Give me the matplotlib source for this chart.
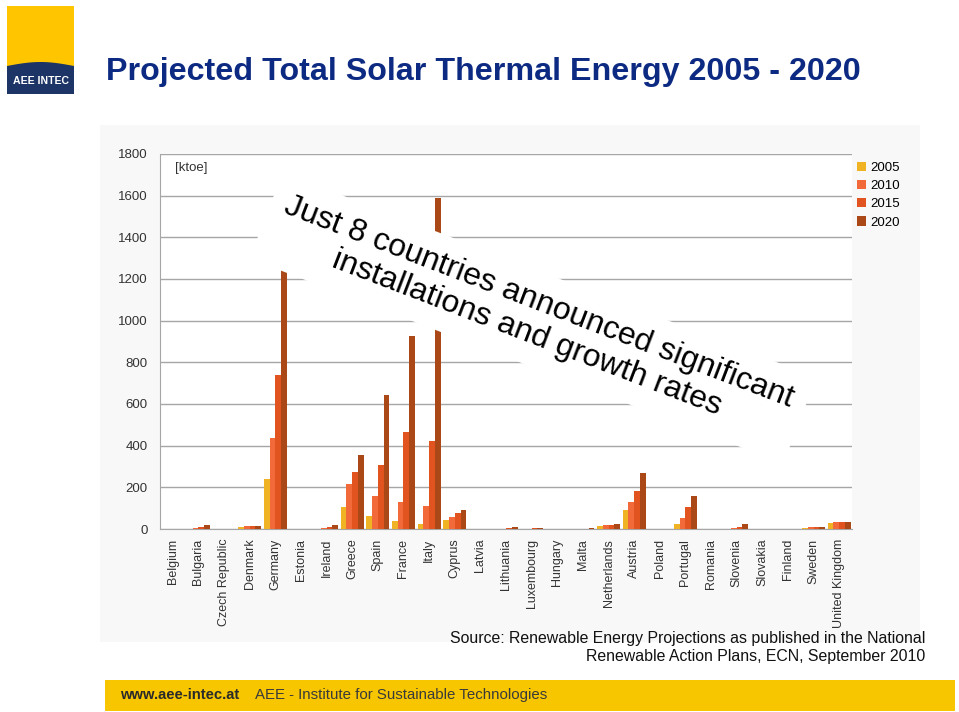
import numpy as np
import matplotlib
matplotlib.use('Agg')
import matplotlib.pyplot as plt
from matplotlib.patches import Rectangle, Polygon

plt.rcParams['font.family'] = ['Liberation Sans', 'DejaVu Sans']

countries = ['Belgium', 'Bulgaria', 'Czech Republic', 'Denmark', 'Germany', 'Estonia',
             'Ireland', 'Greece', 'Spain', 'France', 'Italy', 'Cyprus', 'Latvia',
             'Lithuania', 'Luxembourg', 'Hungary', 'Malta', 'Netherlands', 'Austria',
             'Poland', 'Portugal', 'Romania', 'Slovenia', 'Slovakia', 'Finland',
             'Sweden', 'United Kingdom']
years = ['2005', '2010', '2015', '2020']
v2005 = [0, 0, 0, 11, 240, 0, 0, 104, 61, 38, 24, 43, 0, 0, 0, 0, 2, 14, 93, 0, 24, 0, 1, 0, 0, 7, 29]
v2010 = [0, 5, 0, 13, 439, 0, 5, 216, 158, 131, 112, 59, 0, 1, 1, 0, 2, 21, 128, 0, 53, 0, 5, 0, 0, 8, 35]
v2015 = [0, 10, 0, 14, 741, 0, 10, 272, 307, 465, 424, 77, 0, 5, 3, 0, 2, 18, 182, 0, 107, 0, 10, 0, 0, 8, 35]
v2020 = [0, 20, 0, 16, 1243, 0, 19, 355, 644, 927, 1588, 91, 0, 8, 7, 0, 3, 24, 270, 0, 160, 0, 22, 0, 0, 8, 35]
yticks = [0, 200, 400, 600, 800, 1000, 1200, 1400, 1600, 1800]
colors = ['#F0B323', '#F26A3A', '#E2541F', '#AA4818']

W, H = 959, 712
fig = plt.figure(figsize=(W / 100, H / 100), dpi=100)


def px(x, y):
    # pixel coords (top-left origin) -> figure fraction
    return x / W, 1 - y / H


# faint grey panel behind the chart
fig.add_artist(Rectangle(px(100, 642), 820 / W, 517 / H, transform=fig.transFigure,
                         fc='#f8f8f8', ec='none', zorder=0))

# logo
fig.add_artist(Rectangle(px(7, 94), 67 / W, 88 / H, transform=fig.transFigure,
                         fc='#FFC600', ec='none'))
xs = np.linspace(7, 74, 30)
top = 66 - 4 * np.sin(np.pi * (xs - 7) / 67)
pts = [px(x, y) for x, y in zip(xs, top)] + [px(74, 94), px(7, 94)]
fig.add_artist(Polygon(pts, closed=True, transform=fig.transFigure, fc='#1C3466', ec='none'))
fig.text(*px(41, 81), 'AEE INTEC', color='white', fontsize=7.6, fontweight='bold',
         ha='center', va='center')

fig.text(*px(106, 72), 'Projected Total Solar Thermal Energy 2005 - 2020', color='#0C2A82',
         fontsize=23.2, fontweight='bold', ha='left', va='center')

ax = fig.add_axes([160 / W, 1 - 529 / H, 692 / W, 375 / H])
ax.set_facecolor('white')
x = np.arange(len(countries))
bw = 0.225
for i, (vals, lab) in enumerate(zip([v2005, v2010, v2015, v2020], years)):
    ax.bar(x + (i - 1.5) * bw, vals, width=bw, color=colors[i], label=lab, zorder=3)

ax.set_xlim(-0.5, len(countries) - 0.5)
ax.set_ylim(0, 1800)
ax.set_yticks(yticks)
ax.set_xticks(x)
ax.set_xticklabels(countries, rotation=90, fontsize=9, color='#333333')
ax.tick_params(axis='y', length=0, pad=9, labelsize=9.5, labelcolor='#333333')
ax.tick_params(axis='x', length=0, pad=7)
ax.grid(axis='y', color='#a6a6a6', lw=1, zorder=1)
for s in ['top', 'right']:
    ax.spines[s].set_visible(False)
ax.spines['left'].set_color('#a6a6a6')
ax.spines['bottom'].set_color('#a6a6a6')
ax.text(0.022, 0.963, '[ktoe]', transform=ax.transAxes, fontsize=9.5, color='#333333',
        va='center')

ax.legend(loc='upper left', bbox_to_anchor=px(845, 150), bbox_transform=fig.transFigure,
          frameon=False, fontsize=9.5, handlelength=0.7, handleheight=0.7,
          handletextpad=0.35, labelspacing=0.45)

# callout
fig.text(*px(533, 318), 'Just 8 countries announced significant\ninstallations and growth rates',
         rotation=-21, rotation_mode='anchor', ha='center', va='center', multialignment='center',
         fontsize=23, color='black', linespacing=1.15, zorder=10,
         bbox=dict(boxstyle='round,pad=0.45', fc='white', ec='none'))

fig.text(*px(925, 647), 'Source: Renewable Energy Projections as published in the National\n'
         'Renewable Action Plans, ECN, September 2010', ha='right', va='center',
         multialignment='right', fontsize=11.4, color='#111111', linespacing=1.25)

# footer band
fig.add_artist(Rectangle(px(105, 711), (955 - 105) / W, 31 / H, transform=fig.transFigure,
                         fc='#F7C600', ec='none'))
fig.text(*px(120, 695), 'www.aee-intec.at', fontsize=10.6, fontweight='bold', color='#2a2a2a',
         va='center')
fig.text(*px(255, 695), 'AEE - Institute for Sustainable Technologies', fontsize=10.8,
         color='#3a3a3a', va='center')

fig.savefig('out.png', dpi=100)
